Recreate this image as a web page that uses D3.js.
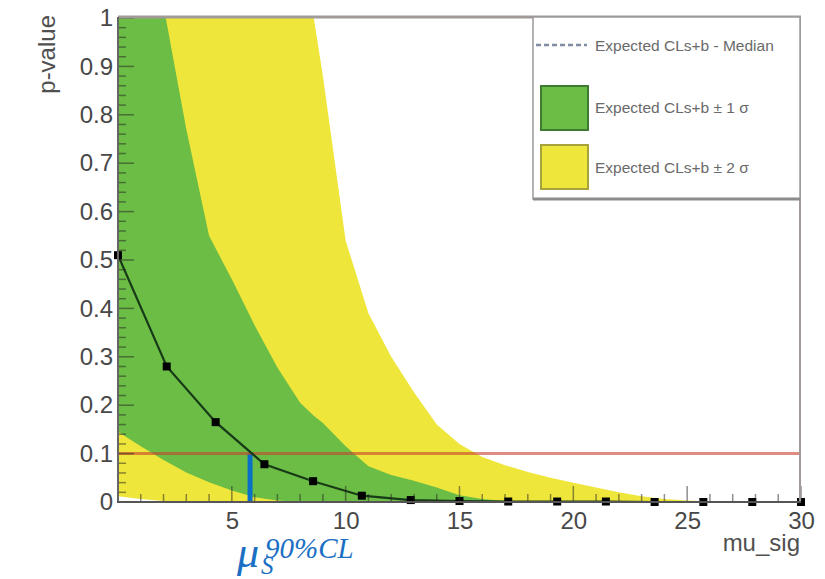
<!DOCTYPE html>
<html>
<head>
<meta charset="utf-8">
<script src="https://cdn.jsdelivr.net/npm/d3@7"></script>
<style>
  html, body { margin: 0; padding: 0; background: #ffffff; }
  svg { display: block; }
</style>
</head>
<body>
<svg id="chart" width="825" height="579"></svg>
<script>
// Scan points of the signal strength and the observed p-value
const muScan = [0, 2.14, 4.29, 6.43, 8.57, 10.71, 12.86, 15, 17.14, 19.29, 21.43, 23.57, 25.71, 27.86, 30];
const pObserved = [0.51, 0.28, 0.165, 0.078, 0.043, 0.013, 0.004, 0.002, 0.001, 0.001, 0.001, 0, 0, 0, 0];

// Expected bands, sampled along mu
const muBand = [0, 1, 2, 2.1, 3, 4, 5, 6, 7, 8, 8.6, 9, 10, 11, 12, 13, 14, 15, 16, 17, 18, 19, 20, 21, 22, 23, 24, 25, 26, 27, 30];
const bandPlus2 = [1, 1, 1, 1, 1, 1, 1, 1, 1, 1, 1, 0.88, 0.54, 0.39, 0.30, 0.227, 0.16, 0.12, 0.093, 0.076, 0.062, 0.05, 0.04, 0.03, 0.02, 0.012, 0.006, 0.003, 0.001, 0, 0];
const bandPlus1 = [1, 1, 1, 1, 0.77, 0.55, 0.46, 0.365, 0.278, 0.205, 0.178, 0.163, 0.115, 0.074, 0.056, 0.044, 0.03, 0.014, 0.006, 0.002, 0, 0, 0, 0, 0, 0, 0, 0, 0, 0, 0];
const bandMinus1 = [0.145, 0.115, 0.087, 0.084, 0.061, 0.041, 0.024, 0.01, 0.003, 0, 0, 0, 0, 0, 0, 0, 0, 0, 0, 0, 0, 0, 0, 0, 0, 0, 0, 0, 0, 0, 0];
const bandMinus2 = [0.012, 0.006, 0.002, 0.002, 0, 0, 0, 0, 0, 0, 0, 0, 0, 0, 0, 0, 0, 0, 0, 0, 0, 0, 0, 0, 0, 0, 0, 0, 0, 0, 0];

// Confidence threshold and the resulting upper limit
const pThreshold = 0.1;
const muLimit = 5.8;

// Axis ticks
const xTickValues = [5, 10, 15, 20, 25, 30];
const yTickValues = [0, 0.1, 0.2, 0.3, 0.4, 0.5, 0.6, 0.7, 0.8, 0.9, 1];
const yTickLabels = ["0", "0.1", "0.2", "0.3", "0.4", "0.5", "0.6", "0.7", "0.8", "0.9", "1"];

// Legend entries
const legendLabels = ["Expected CLs+b - Median", "Expected CLs+b \u00b1 1 \u03c3", "Expected CLs+b \u00b1 2 \u03c3"];

const sansFont = "'Liberation Sans', Arial, Helvetica, sans-serif";
const svg = d3.select("#chart");
const plotLeft = 118, plotRight = 801, plotTop = 18, plotBottom = 502;

const x = d3.scaleLinear().domain([0, 30]).range([plotLeft, plotRight]);
const y = d3.scaleLinear().domain([0, 1]).range([plotBottom, plotTop]);

svg.append("rect").attr("width", 825).attr("height", 579).attr("fill", "#ffffff");

svg.append("defs").append("clipPath").attr("id", "plotClip")
  .append("rect").attr("x", plotLeft).attr("y", plotTop)
  .attr("width", plotRight - plotLeft).attr("height", plotBottom - plotTop);

const plot = svg.append("g").attr("clip-path", "url(#plotClip)");

const bandRows = muBand.map((m, i) => ({
  mu: m, p2: bandPlus2[i], p1: bandPlus1[i], m1: bandMinus1[i], m2: bandMinus2[i]
}));

// Yellow ±2σ band
plot.append("path")
  .datum(bandRows)
  .attr("fill", "#eee63a")
  .attr("d", d3.area().x(d => x(d.mu)).y0(d => y(d.m2)).y1(d => y(d.p2)));

// Green ±1σ band
plot.append("path")
  .datum(bandRows)
  .attr("fill", "#6cbd45")
  .attr("d", d3.area().x(d => x(d.mu)).y0(d => y(d.m1)).y1(d => y(d.p1)));

// Upper-limit bar
plot.append("rect")
  .attr("x", x(muLimit) - 2.5)
  .attr("y", y(pThreshold))
  .attr("width", 5)
  .attr("height", y(0) - y(pThreshold))
  .attr("fill", "#0a6fc6");

// Threshold line
plot.append("line")
  .attr("x1", x(0)).attr("x2", x(30))
  .attr("y1", y(pThreshold)).attr("y2", y(pThreshold))
  .attr("stroke", "#c8402e").attr("stroke-opacity", 0.6).attr("stroke-width", 3);

// Observed p-value curve
const obs = muScan.map((m, i) => ({ mu: m, p: pObserved[i] }));
plot.append("path")
  .datum(obs)
  .attr("fill", "none")
  .attr("stroke", "#173a17")
  .attr("stroke-width", 2.2)
  .attr("d", d3.line().x(d => x(d.mu)).y(d => y(d.p)));

svg.append("g").selectAll("rect").data(obs).join("rect")
  .attr("x", d => x(d.mu) - 4)
  .attr("y", d => y(d.p) - 4)
  .attr("width", 8).attr("height", 8)
  .attr("fill", "#000000");

// Ticks drawn inward
const ticks = svg.append("g").attr("stroke", "#222").attr("stroke-opacity", 0.5).attr("stroke-width", 1.5);
d3.range(0, 1.0001, 0.02).forEach(v => {
  const major = Math.abs(v * 10 - Math.round(v * 10)) < 1e-6;
  ticks.append("line").attr("x1", plotLeft).attr("x2", plotLeft + (major ? 16 : 8))
    .attr("y1", y(v)).attr("y2", y(v));
});
d3.range(0, 30.001, 1).forEach(v => {
  const major = v % 5 === 0;
  ticks.append("line").attr("y1", plotBottom).attr("y2", plotBottom - (major ? 16 : 8))
    .attr("x1", x(v)).attr("x2", x(v));
});

// Frame
svg.append("line").attr("x1", plotLeft).attr("x2", plotRight).attr("y1", plotTop - 1).attr("y2", plotTop - 1)
  .attr("stroke", "#a29a98").attr("stroke-width", 3);
svg.append("line").attr("x1", plotRight - 1).attr("x2", plotRight - 1).attr("y1", plotTop - 1).attr("y2", plotBottom)
  .attr("stroke", "#a29a98").attr("stroke-width", 2);
svg.append("line").attr("x1", plotLeft).attr("x2", plotLeft).attr("y1", plotTop - 1).attr("y2", plotBottom + 1)
  .attr("stroke", "#666").attr("stroke-width", 2);
svg.append("line").attr("x1", plotLeft - 1).attr("x2", plotRight).attr("y1", plotBottom).attr("y2", plotBottom)
  .attr("stroke", "#555").attr("stroke-width", 2);

// Axis labels via d3 axes, with the domain and tick lines hidden
const xAxis = svg.append("g").attr("transform", `translate(0,${plotBottom})`)
  .call(d3.axisBottom(x).tickValues(xTickValues).tickSize(0).tickPadding(10));
const yAxis = svg.append("g").attr("transform", `translate(${plotLeft},0)`)
  .call(d3.axisLeft(y).tickValues(yTickValues).tickFormat((d, i) => yTickLabels[i]).tickSize(0).tickPadding(5));
[xAxis, yAxis].forEach(a => {
  a.select(".domain").remove();
  a.selectAll("text").style("font-size", "24px").style("font-family", sansFont).attr("fill", "#484848");
});
xAxis.selectAll("text").attr("dy", "0.71em");

// Axis titles
svg.append("text").attr("x", 800).attr("y", 551).attr("text-anchor", "end")
  .style("font-size", "24px").style("font-family", sansFont).attr("fill", "#505050").text("mu_sig");
svg.append("text").attr("transform", "translate(55,15) rotate(-90)")
  .attr("text-anchor", "end").style("font-size", "24px").style("font-family", sansFont)
  .attr("fill", "#505050").text("p-value");

// Legend
const lg = svg.append("g");
lg.append("rect").attr("x", 533).attr("y", 17).attr("width", 267).attr("height", 182)
  .attr("fill", "#ffffff").attr("stroke", "#9a9a9a").attr("stroke-width", 1.5);
lg.append("line").attr("x1", 533).attr("x2", 800).attr("y1", 199).attr("y2", 199)
  .attr("stroke", "#8c8c8c").attr("stroke-width", 3);
lg.append("line").attr("x1", 536).attr("x2", 587).attr("y1", 45).attr("y2", 45)
  .attr("stroke", "#7f8ca2").attr("stroke-width", 2.5).attr("stroke-dasharray", "5,3");
lg.append("rect").attr("x", 541).attr("y", 86).attr("width", 47).attr("height", 44)
  .attr("fill", "#6cbd45").attr("stroke", "#3e7a30").attr("stroke-width", 2);
lg.append("rect").attr("x", 541).attr("y", 145).attr("width", 47).attr("height", 44)
  .attr("fill", "#eee63a").attr("stroke", "#a8a23a").attr("stroke-width", 2);
const legendY = [51, 113, 173];
legendLabels.forEach((t, i) => {
  lg.append("text").attr("x", 595).attr("y", legendY[i])
    .style("font-size", "15.5px").style("font-family", sansFont).attr("fill", "#6a6a6a").text(t);
});

// Upper-limit annotation: mu with subscript S and superscript 90%CL
const serifFont = "'Liberation Serif', 'DejaVu Serif', serif";
const annColor = "#1a6fc4";
const annText = (tx, ty, size, str) => svg.append("text").attr("x", tx).attr("y", ty)
  .style("font-family", serifFont).style("font-style", "italic").style("font-size", size + "px")
  .attr("fill", annColor).text(str);
annText(x(muLimit) - 13, 567, 44, "\u03bc");
annText(x(muLimit) + 11, 574, 25, "S");
annText(x(muLimit) + 15, 558, 29, "90%CL");
</script>
</body>
</html>
